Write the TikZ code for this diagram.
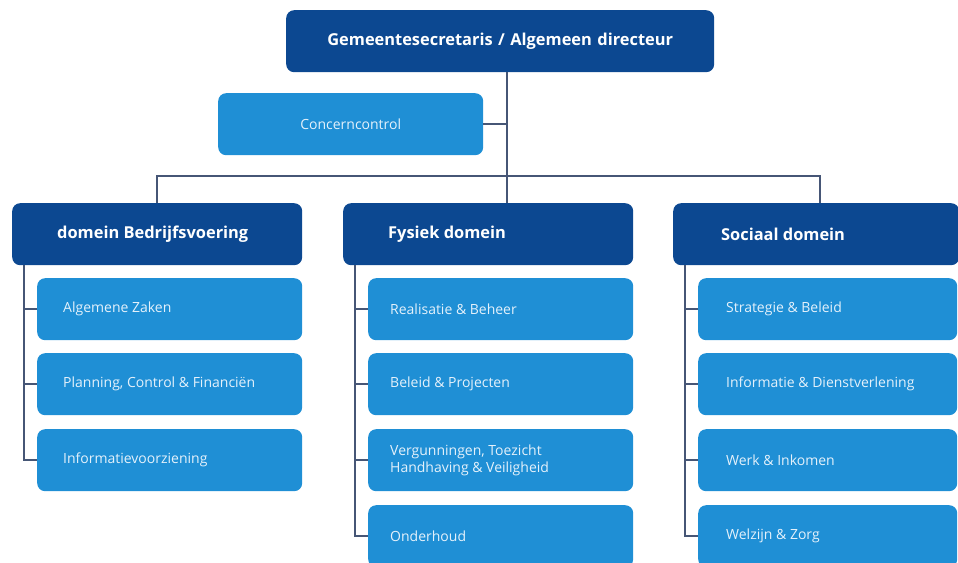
\documentclass[tikz,border=0pt]{standalone}
\usepackage{fontspec}
\setmainfont{Open Sans}
\definecolor{darkblue}{RGB}{12,72,145}
\definecolor{lightblue}{RGB}{31,143,213}
\definecolor{linegray}{RGB}{70,86,118}
\definecolor{itemtext}{RGB}{228,241,251}
\begin{document}
\begin{tikzpicture}[x=1pt,y=-1pt,
  headstyle/.style={draw=none,fill=darkblue,rounded corners=8pt,anchor=north west,
    minimum height=62pt,text=white,font=\fontsize{16.4}{19}\selectfont\bfseries,
    inner xsep=45pt,text width=200pt,align=flush left},
  topstyle/.style={headstyle,text width=400pt,inner xsep=14pt,align=center},
  itemstyle/.style={draw=none,fill=lightblue,rounded corners=8pt,anchor=north west,
    minimum height=62pt,text=itemtext,font=\fontsize{14}{17.5}\selectfont,
    inner xsep=26pt,text width=213pt,align=flush left},
  linestyle/.style={draw=linegray,line width=1.5pt}]
\useasboundingbox (0,0) rectangle (958,562);
\clip (0,0) rectangle (958,562);
\node[topstyle] (top) at (286,10) {Gemeentesecretaris / Algemeen directeur};
\node[itemstyle,text width=213pt,align=center] (cc) at (218,93) {Concerncontrol};
\coordinate (hub) at (507,176);
% domeinen
\node[headstyle] (h1) at (12,203) {domein Bedrijfsvoering};
\node[headstyle] (h2) at (343,203) {Fysiek domein};
\node[headstyle,text width=190pt,inner xsep=48pt] (h3) at (673,203) {Sociaal domein};
% afdelingen
\node[itemstyle] (i11) at (37,278) {Algemene Zaken};
\node[itemstyle] (i12) at (37,353) {Planning, Control \& Financiën};
\node[itemstyle] (i13) at (37,429) {Informatievoorziening};
\node[itemstyle,inner xsep=22pt,text width=221pt] (i21) at (368,278) {Realisatie \& Beheer};
\node[itemstyle,inner xsep=22pt,text width=221pt] (i22) at (368,353) {Beleid \& Projecten};
\node[itemstyle,inner xsep=22pt,text width=221pt] (i23) at (368,429) {Vergunningen, Toezicht\\Handhaving \& Veiligheid};
\node[itemstyle,inner xsep=22pt,text width=221pt] (i24) at (368,505) {Onderhoud};
\node[itemstyle,inner xsep=28pt,text width=203pt] (i31) at (698,278) {Strategie \& Beleid};
\node[itemstyle,inner xsep=28pt,text width=203pt] (i32) at (698,353) {Informatie \& Dienstverlening};
\node[itemstyle,inner xsep=28pt,text width=203pt] (i33) at (698,429) {Werk \& Inkomen};
\node[itemstyle,inner xsep=28pt,text width=203pt] (i34) at (698,505) {Welzijn \& Zorg};
% lijnen
\draw[linestyle] (top.south -| hub) -- (h2.north -| hub);
\draw[linestyle] (cc.east) -- (cc.east -| hub);
\draw[linestyle] (h1.north) |- (hub) -| ([xshift=4pt]h3.north);
\foreach \h/\last in {1/3,2/4,3/4}{
  \foreach \i in {1,...,\last}
    \draw[linestyle] ([xshift=12pt]h\h.south west) |- (i\h\i.west);
}
\end{tikzpicture}
\end{document}
